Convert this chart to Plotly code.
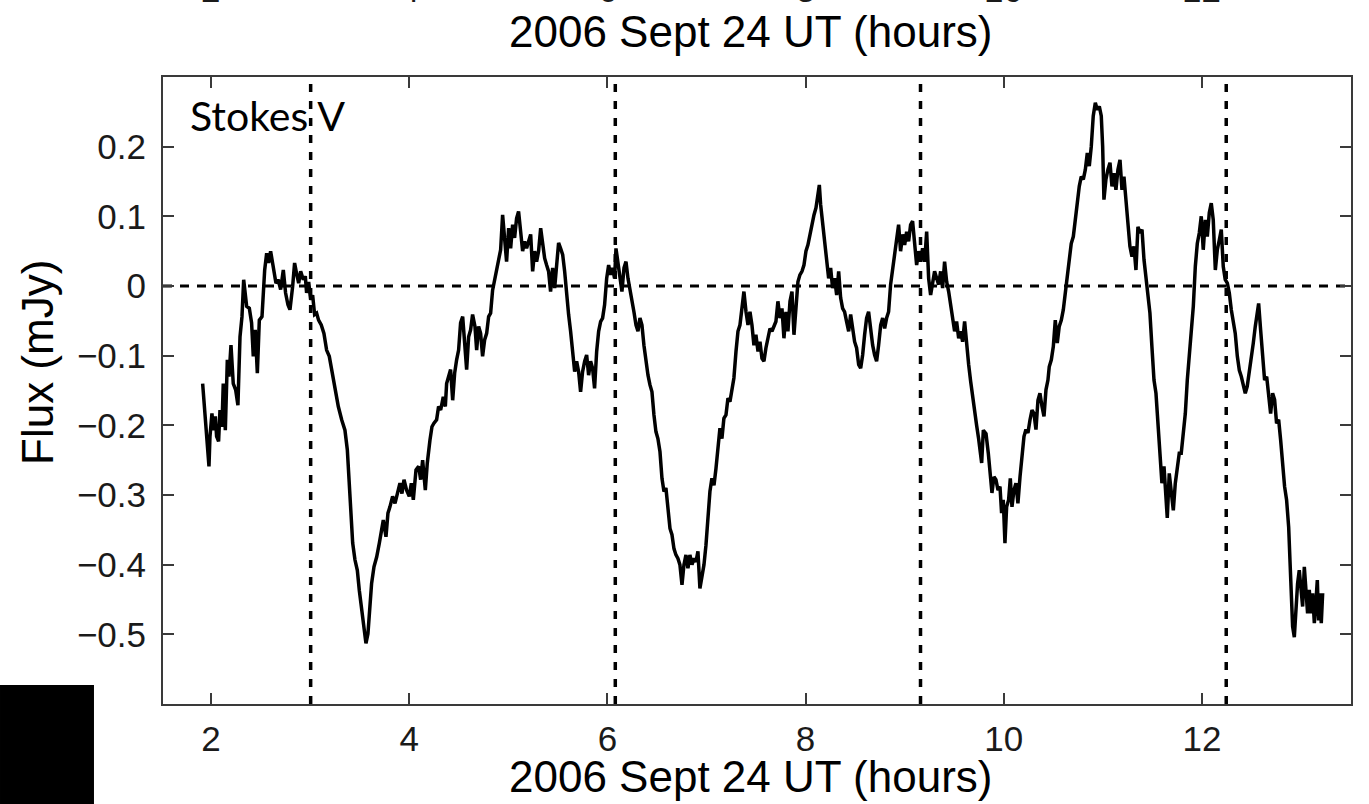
import plotly.graph_objects as go

# Stokes V light curve, 2006 Sept 24 (UT hours, flux in mJy)
ut_hours = [
    1.916, 1.939, 1.963, 1.980, 1.990, 2.010, 2.024, 2.044, 2.057, 2.077,
    2.091, 2.111, 2.124, 2.145, 2.165, 2.182, 2.202, 2.225, 2.249, 2.272,
    2.293, 2.313, 2.330, 2.360, 2.387, 2.410, 2.427, 2.447, 2.468, 2.488,
    2.515, 2.542, 2.562, 2.582, 2.602, 2.629, 2.656, 2.679, 2.703, 2.730,
    2.753, 2.777, 2.797, 2.824, 2.844, 2.864, 2.885, 2.905, 2.932, 2.952,
    2.965, 2.986, 3.006, 3.026, 3.046, 3.066, 3.086, 3.113, 3.140, 3.167,
    3.194, 3.218, 3.251, 3.285, 3.319, 3.352, 3.376, 3.396, 3.413, 3.430,
    3.453, 3.477, 3.497, 3.520, 3.544, 3.564, 3.584, 3.604, 3.621, 3.645,
    3.672, 3.699, 3.722, 3.739, 3.766, 3.786, 3.806, 3.833, 3.857, 3.880,
    3.907, 3.927, 3.948, 3.974, 4.001, 4.022, 4.042, 4.069, 4.096, 4.116,
    4.136, 4.163, 4.183, 4.210, 4.230, 4.250, 4.277, 4.297, 4.318, 4.344,
    4.365, 4.378, 4.398, 4.418, 4.439, 4.459, 4.479, 4.499, 4.519, 4.540,
    4.560, 4.580, 4.600, 4.620, 4.640, 4.664, 4.681, 4.701, 4.721, 4.741,
    4.762, 4.782, 4.802, 4.822, 4.842, 4.862, 4.883, 4.903, 4.923,
    4.943, 4.963, 4.983, 5.004, 5.024, 5.044, 5.064, 5.084, 5.104, 5.125,
    5.145, 5.165, 5.185, 5.205, 5.226, 5.246, 5.266, 5.286, 5.306, 5.327,
    5.347, 5.367, 5.387, 5.407, 5.427, 5.448, 5.468, 5.488, 5.508, 5.528,
    5.549, 5.569, 5.589, 5.609, 5.629, 5.650, 5.670, 5.690, 5.710, 5.730,
    5.750, 5.771, 5.791, 5.811, 5.831, 5.851, 5.871, 5.892, 5.912, 5.932,
    5.952, 5.972, 5.993, 6.013, 6.033, 6.053, 6.073, 6.087, 6.107, 6.127,
    6.147, 6.168, 6.188, 6.208, 6.228, 6.248, 6.268, 6.289, 6.309, 6.329,
    6.349, 6.369, 6.389, 6.410, 6.430, 6.450, 6.470, 6.490, 6.510, 6.531,
    6.551, 6.571, 6.591, 6.611, 6.632, 6.652, 6.672, 6.692, 6.712, 6.732,
    6.753, 6.773, 6.793, 6.813, 6.833, 6.854, 6.874, 6.894, 6.914, 6.934,
    6.954, 6.975, 6.995, 7.015, 7.035, 7.055, 7.076, 7.096, 7.116, 7.136,
    7.156, 7.176, 7.197, 7.217, 7.237, 7.257, 7.277, 7.298, 7.318, 7.338,
    7.358, 7.378, 7.399, 7.419, 7.439, 7.459, 7.479, 7.499, 7.520, 7.540,
    7.560, 7.580, 7.600, 7.621, 7.641, 7.661, 7.681, 7.701, 7.721, 7.742,
    7.762, 7.782, 7.802, 7.822, 7.843, 7.863, 7.883, 7.903, 7.923, 7.943,
    7.964, 7.984, 8.004, 8.024, 8.044, 8.065, 8.085, 8.105, 8.125, 8.139,
    8.152, 8.172, 8.192, 8.213, 8.233, 8.253, 8.273, 8.293, 8.314, 8.334,
    8.354, 8.374, 8.394, 8.414, 8.435, 8.455, 8.475, 8.495, 8.515, 8.536,
    8.556, 8.576, 8.596, 8.616, 8.636, 8.657, 8.677, 8.697, 8.717, 8.737,
    8.758, 8.778, 8.798, 8.818, 8.838, 8.858, 8.879, 8.899, 8.919, 8.939,
    8.959, 8.980, 9.000, 9.020, 9.040, 9.060, 9.080, 9.101, 9.121, 9.141,
    9.161, 9.181, 9.202, 9.222, 9.242, 9.262, 9.282, 9.302, 9.323, 9.343,
    9.363, 9.383, 9.403, 9.424, 9.444, 9.464, 9.484, 9.504, 9.524, 9.545,
    9.565, 9.585, 9.605, 9.625, 9.646, 9.666, 9.686, 9.706, 9.726, 9.746,
    9.777, 9.794, 9.821, 9.844, 9.861, 9.881, 9.901, 9.921, 9.942, 9.962,
    9.978, 9.995, 10.012, 10.029, 10.049, 10.066, 10.083, 10.103, 10.123, 10.143,
    10.164, 10.184, 10.204, 10.224, 10.244, 10.265, 10.285, 10.305, 10.325, 10.345,
    10.365, 10.386, 10.406, 10.426, 10.446,
    10.459, 10.480, 10.500, 10.520, 10.540, 10.560, 10.581, 10.601, 10.621, 10.641,
    10.661, 10.681, 10.702, 10.722, 10.742, 10.762, 10.782, 10.803, 10.823, 10.843,
    10.863, 10.883, 10.903, 10.924, 10.944, 10.964, 10.984, 10.998, 11.011, 11.031,
    11.051, 11.072, 11.092, 11.112, 11.132, 11.152, 11.173, 11.193, 11.213, 11.233,
    11.253, 11.273, 11.294, 11.314, 11.334, 11.354, 11.374, 11.395, 11.415, 11.435,
    11.455, 11.475, 11.495, 11.516, 11.536, 11.556, 11.576, 11.596, 11.617, 11.637,
    11.650, 11.670, 11.691, 11.711, 11.731, 11.751, 11.771, 11.791, 11.812, 11.832,
    11.852, 11.872, 11.892, 11.913, 11.933, 11.953, 11.973, 11.993, 12.013, 12.034,
    12.054, 12.074, 12.094, 12.114, 12.135, 12.155, 12.175, 12.195, 12.215, 12.235,
    12.256, 12.276, 12.296, 12.316, 12.336, 12.357, 12.377, 12.397, 12.417, 12.437,
    12.457, 12.478, 12.498, 12.518, 12.538, 12.558,
    12.572, 12.592, 12.612, 12.632, 12.653, 12.673, 12.693, 12.713, 12.733, 12.753,
    12.774, 12.794, 12.814, 12.834, 12.854, 12.875, 12.888, 12.902, 12.915, 12.932,
    12.949, 12.965, 12.982, 12.999, 13.016, 13.033, 13.049, 13.066, 13.083, 13.100,
    13.117, 13.134, 13.151, 13.164, 13.177, 13.191, 13.204, 13.218,
]

stokes_v = [
    -0.140, -0.178, -0.221, -0.259, -0.216, -0.183, -0.207, -0.187, -0.216, -0.223,
    -0.178, -0.202, -0.140, -0.207, -0.106, -0.130, -0.085, -0.140, -0.149, -0.171,
    -0.073, -0.044, 0.009, -0.029, -0.032, -0.053, -0.101, -0.063, -0.125, -0.049,
    -0.044, 0.023, 0.047, 0.033, 0.050, 0.023, 0.004, 0.009, -0.005, 0.023,
    -0.010, -0.027, -0.034, -0.001, 0.033, 0.018, 0.004, 0.021, 0.009, 0.014,
    -0.010, 0.006, -0.020, -0.013, -0.041, -0.039, -0.049, -0.056, -0.068, -0.092,
    -0.101, -0.120, -0.149, -0.173, -0.192, -0.207, -0.235, -0.283, -0.331, -0.369,
    -0.393, -0.408, -0.437, -0.465, -0.489, -0.513, -0.499, -0.456, -0.427, -0.403,
    -0.389, -0.369, -0.345, -0.336, -0.360, -0.326, -0.317, -0.302, -0.312, -0.298,
    -0.283, -0.298, -0.278, -0.293, -0.302, -0.283, -0.307, -0.264, -0.259, -0.278,
    -0.250, -0.293, -0.254, -0.221, -0.202, -0.197, -0.192, -0.173, -0.178, -0.159,
    -0.173, -0.140, -0.130, -0.120, -0.164, -0.125, -0.106, -0.092, -0.053, -0.044,
    -0.082, -0.120, -0.073, -0.063, -0.041, -0.058, -0.092, -0.058, -0.068, -0.101,
    -0.077, -0.068, -0.044, -0.039, -0.006, 0.009, 0.028, 0.042, 0.052,
    0.102, 0.064, 0.035, 0.083, 0.054, 0.088, 0.069, 0.097, 0.107, 0.078,
    0.050, 0.064, 0.054, 0.064, 0.074, 0.021, 0.050, 0.035, 0.050, 0.083,
    0.064, 0.040, 0.030, 0.021, -0.008, 0.026, -0.003, 0.035, 0.062, 0.054,
    0.045, 0.021, -0.013, -0.041, -0.065, -0.094, -0.123, -0.108, -0.123, -0.152,
    -0.123, -0.108, -0.099, -0.128, -0.108, -0.118, -0.147, -0.094, -0.065, -0.051,
    -0.046, -0.027, 0.011, 0.030, 0.016, 0.026, 0.011, 0.054, 0.035, 0.016,
    -0.008, 0.026, 0.035, 0.011, -0.003, -0.017, -0.037, -0.056, -0.065, -0.046,
    -0.056, -0.085, -0.108, -0.128, -0.142, -0.152, -0.185, -0.209, -0.219, -0.238,
    -0.276, -0.295, -0.290, -0.319, -0.348, -0.357, -0.377, -0.386, -0.391, -0.400,
    -0.429, -0.400, -0.386, -0.405, -0.386, -0.400, -0.391, -0.396, -0.381, -0.434,
    -0.420, -0.400, -0.372, -0.324, -0.295, -0.276, -0.286, -0.262, -0.228, -0.204,
    -0.219, -0.190, -0.185, -0.161, -0.166, -0.152, -0.132, -0.094, -0.065, -0.056,
    -0.027, -0.008, -0.037, -0.056, -0.037, -0.056, -0.085, -0.070, -0.094, -0.080,
    -0.104, -0.108, -0.089, -0.075, -0.061, -0.065, -0.056, -0.051, -0.022, -0.046,
    -0.032, -0.075, -0.037, -0.065, -0.022, -0.008, -0.070, -0.027, 0.006, 0.016,
    0.021, 0.030, 0.050, 0.059, 0.074, 0.088, 0.102, 0.112, 0.131, 0.145,
    0.117, 0.093, 0.064, 0.035, 0.011, 0.026, -0.003, 0.011, -0.013, 0.021,
    -0.017, -0.032, -0.037, -0.051, -0.065, -0.041, -0.061, -0.080, -0.089, -0.113,
    -0.118, -0.099, -0.070, -0.046, -0.037, -0.065, -0.085, -0.099, -0.108, -0.085,
    -0.056, -0.046, -0.061, -0.046, -0.037, 0.002, 0.026, 0.045, 0.074, 0.088,
    0.050, 0.074, 0.059, 0.078, 0.064, 0.088, 0.093, 0.059, 0.030, 0.050,
    0.035, 0.054, 0.035, 0.078, 0.011, -0.013, 0.006, 0.021, 0.011, 0.002,
    0.021, -0.003, 0.035, 0.006, -0.008, -0.027, -0.051, -0.065, -0.051, -0.075,
    -0.065, -0.080, -0.051, -0.085, -0.113, -0.137, -0.161, -0.185, -0.200, -0.219,
    -0.254, -0.207, -0.212, -0.240, -0.269, -0.297, -0.274, -0.278, -0.293, -0.288,
    -0.326, -0.307, -0.369, -0.317, -0.307, -0.276, -0.317, -0.293, -0.283, -0.312,
    -0.274, -0.245, -0.216, -0.206, -0.211, -0.192, -0.178, -0.183, -0.206, -0.164,
    -0.154, -0.173, -0.187, -0.149, -0.135,
    -0.116, -0.106, -0.087, -0.049, -0.082, -0.058, -0.049, -0.034, -0.010, 0.014,
    0.038, 0.061, 0.071, 0.095, 0.128, 0.143, 0.157, 0.153, 0.167, 0.191,
    0.172, 0.200, 0.244, 0.263, 0.253, 0.258, 0.244, 0.200, 0.124, 0.153,
    0.167, 0.177, 0.143, 0.162, 0.138, 0.167, 0.181, 0.138, 0.157, 0.124,
    0.100, 0.057, 0.042, 0.057, 0.023, 0.085, 0.076, 0.081, 0.038, 0.009,
    -0.010, -0.039, -0.087, -0.135, -0.154, -0.192, -0.240, -0.283, -0.259, -0.302,
    -0.333, -0.269, -0.293, -0.322, -0.283, -0.264, -0.240, -0.240, -0.216, -0.183,
    -0.135, -0.097, -0.073, -0.029, 0.028, 0.061, 0.076, 0.100, 0.052, 0.095,
    0.071, 0.105, 0.119, 0.095, 0.023, 0.052, 0.066, 0.081, 0.028, 0.009,
    0.004, -0.010, -0.034, -0.053, -0.068, -0.101, -0.121, -0.130, -0.144, -0.154,
    -0.144, -0.125, -0.101, -0.082, -0.058, -0.039,
    -0.025, -0.063, -0.096, -0.135, -0.130, -0.159, -0.183, -0.154, -0.163, -0.197,
    -0.192, -0.221, -0.259, -0.288, -0.307, -0.346, -0.393, -0.451, -0.489, -0.504,
    -0.460, -0.427, -0.408, -0.432, -0.460, -0.403, -0.432, -0.470, -0.436, -0.470,
    -0.441, -0.484, -0.451, -0.422, -0.480, -0.441, -0.484, -0.441,
]

# times of the dashed vertical markers (UT hours)
marker_hours = [3.006, 6.080, 9.160, 12.245]

x_ticks = [2, 4, 6, 8, 10, 12]
y_ticks = [0.2, 0.1, 0, -0.1, -0.2, -0.3, -0.4, -0.5]

x_title = "2006 Sept 24 UT (hours)"
y_title = "Flux (mJy)"
panel_label = "Stokes V"

AXIS_FONT = "Liberation Sans, Arial, Helvetica, sans-serif"
AXIS_COLOR = "#3a3a3a"
TICK_SIZE = 35

fig = go.Figure()

fig.add_trace(go.Scatter(
    x=ut_hours, y=stokes_v, mode="lines",
    line=dict(color="black", width=3.5),
    showlegend=False, hoverinfo="skip",
))

shapes = []
# zero-flux reference line
shapes.append(dict(
    type="line", xref="paper", yref="y", x0=0, x1=1, y0=0, y1=0,
    line=dict(color="black", width=3, dash="9px,8px"), layer="below",
))
for t in marker_hours:
    shapes.append(dict(
        type="line", xref="x", yref="paper", x0=t, x1=t, y0=0, y1=1,
        line=dict(color="black", width=3.5, dash="8px,9px"), layer="below",
    ))
# solid black block in the lower-left corner
shapes.append(dict(
    type="rect", xref="paper", yref="paper",
    x0=-0.1372, x1=-0.0581, y0=-0.1595, y1=0.0303,
    fillcolor="black", line=dict(width=0), layer="above",
))

annotations = [
    dict(text=x_title, xref="paper", yref="paper", x=0.4945, y=-0.1164,
         xanchor="center", yanchor="middle", showarrow=False,
         font=dict(family=AXIS_FONT, size=44, color="black")),
    dict(text=x_title, xref="paper", yref="paper", x=0.4945, y=1.0718,
         xanchor="center", yanchor="middle", showarrow=False,
         font=dict(family=AXIS_FONT, size=44, color="black")),
    dict(text=y_title, xref="paper", yref="paper", x=-0.1052, y=0.5439,
         xanchor="center", yanchor="middle", textangle=-90, showarrow=False,
         font=dict(family=AXIS_FONT, size=44, color="black")),
    dict(text=panel_label, xref="paper", yref="paper", x=0.021, y=0.9381,
         xanchor="left", yanchor="middle", showarrow=False,
         font=dict(family="Lato, Open Sans, sans-serif", size=41, color="black")),
]
# tick labels of the panel above, cut by the top edge
for v in x_ticks:
    annotations.append(dict(
        text=str(v), xref="x", yref="paper", x=v, y=1.1395,
        xanchor="center", yanchor="middle", showarrow=False,
        font=dict(family=AXIS_FONT, size=TICK_SIZE, color="#1a1a1a"),
    ))

axis_common = dict(
    showline=True, linecolor=AXIS_COLOR, linewidth=2, mirror="ticks",
    ticks="inside", ticklen=11, tickwidth=2, tickcolor=AXIS_COLOR,
    showgrid=False, zeroline=False,
    tickfont=dict(family=AXIS_FONT, size=TICK_SIZE, color="#1a1a1a"),
)

fig.update_layout(
    width=1369, height=804,
    margin=dict(l=163, r=18, t=77, b=100),
    paper_bgcolor="white", plot_bgcolor="white",
    xaxis=dict(range=[1.516, 13.504], tickvals=x_ticks,
               ticklabelstandoff=3, **axis_common),
    yaxis=dict(range=[-0.6, 0.3], tickvals=y_ticks,
               ticklabelstandoff=8, **axis_common),
    shapes=shapes,
    annotations=annotations,
)

fig.write_html("out.html")
